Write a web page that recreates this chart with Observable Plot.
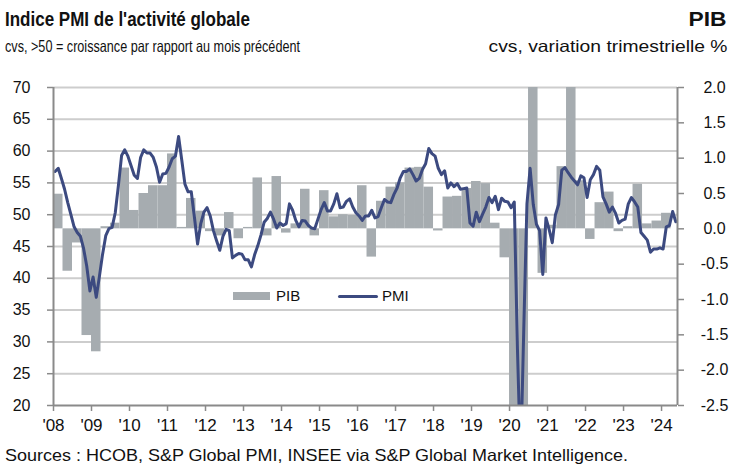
<!DOCTYPE html>
<html>
<head>
<meta charset="utf-8">
<script src="https://cdn.jsdelivr.net/npm/d3@7"></script>
<script src="https://cdn.jsdelivr.net/npm/@observablehq/plot@0.6"></script>
<style>
  html, body { margin: 0; padding: 0; background: #fff; }
  #wrap { position: relative; width: 731px; height: 464px; overflow: hidden; font-family: "Liberation Sans", Arial, sans-serif; color: #111; }
  .abs { position: absolute; white-space: nowrap; }
  #chart { position: absolute; left: 0; top: 0; }
</style>
</head>
<body>
<div id="wrap">
  <div id="chart"></div>
  <div class="abs fit" data-w="245" data-o="left" style="left:5px; top:8px; font-size:19.5px; line-height:22px; font-weight:bold;">Indice PMI de l'activité globale</div>
  <div class="abs fit" data-w="295" data-o="left" style="left:5px; top:37px; font-size:16.5px; line-height:18px;">cvs, &gt;50 = croissance par rapport au mois précédent</div>
  <div class="abs fit" data-w="38" data-o="right" style="right:4px; top:8px; font-size:19.5px; line-height:22px; font-weight:bold;">PIB</div>
  <div class="abs fit" data-w="239" data-o="right" style="right:4px; top:37px; font-size:16.5px; line-height:18px;">cvs, variation trimestrielle %</div>
  <div class="abs fit" data-w="623" data-o="left" style="left:5px; top:446px; font-size:16.5px; line-height:18px;">Sources : HCOB, S&amp;P Global PMI, INSEE via S&amp;P Global Market Intelligence.</div>
  <div class="abs" style="left:233px; top:292px; width:37px; height:8px; background:#a6acb0;"></div>
  <div class="abs" style="left:276px; top:287px; font-size:15px; line-height:18px;">PIB</div>
  <div class="abs" style="left:338px; top:294.5px; width:40px; height:3px; background:#3c4a80; border-radius:1.5px;"></div>
  <div class="abs" style="left:382px; top:287px; font-size:15px; line-height:18px;">PMI</div>
</div>
<script>
// PMI composite, monthly, Jan 2008 – May 2024
const pmiStartYear = 2008;
const pmi = [
  56.8, 57.3, 55.7, 54.0, 51.9, 50.0, 48.1, 47.2, 46.6, 44.7, 41.9, 38.0,
  40.2, 37.0, 40.3, 43.8, 46.7, 47.8, 48.0, 50.3, 54.6, 59.3, 60.2, 59.2,
  57.7, 56.2, 55.7, 59.0, 60.2, 59.7, 59.7, 59.0, 57.5, 55.1, 56.4, 56.5,
  57.5, 58.8, 59.2, 62.3, 58.6, 54.8, 53.6, 53.6, 49.6, 45.4, 48.6, 50.4,
  51.1, 49.8, 47.5, 45.9, 44.4, 46.6, 47.7, 47.5, 43.2, 43.6, 43.9, 43.8,
  42.9, 42.9, 41.8, 43.7, 45.1, 46.8, 48.8, 49.4, 50.4, 49.3, 47.9, 48.7,
  48.3, 48.6, 51.7, 50.7, 49.1, 48.1, 49.1, 49.0, 48.3, 47.9, 47.8, 49.3,
  50.8, 51.9, 50.6, 50.6, 51.7, 53.3, 51.1, 51.2, 52.1, 52.5, 51.2, 50.3,
  49.8, 49.1, 49.8, 49.8, 50.7, 49.5, 49.7, 51.1, 52.4, 52.0, 51.9, 53.2,
  54.2, 55.8, 56.8, 56.8, 57.2, 56.3, 55.3, 55.7, 57.1, 58.0, 60.4, 59.6,
  59.2, 57.3, 56.3, 56.9, 54.2, 55.0, 54.4, 54.9, 54.0, 54.1, 54.2, 48.7,
  48.2, 50.4, 48.9, 50.1, 51.2, 52.7, 51.9, 52.9, 50.8, 52.6, 52.1, 52.0,
  51.1, 52.0, 28.9, 11.1, 32.1, 51.7, 57.3, 51.6, 48.5, 47.5, 40.6, 49.5,
  47.7, 45.6, 50.0, 51.6, 57.0, 57.4, 56.6, 55.9, 55.3, 54.7, 56.1, 55.8,
  52.7, 55.5, 56.3, 57.6, 57.0, 52.8, 51.7, 50.4, 51.2, 50.2, 48.7, 49.1,
  49.3, 51.7, 52.7, 52.0, 51.2, 47.2, 46.6, 46.0, 44.1, 44.6, 44.6, 44.8,
  44.6, 48.1, 48.3, 50.5, 48.9
];

// PIB, quarterly % change, Q1 2008 – Q1 2024
const pibStartYear = 2008;
const pib = [
  0.49, -0.60, -0.20, -1.51,
  -1.74, 0.03, 0.08, 0.86,
  0.26, 0.50, 0.61, 0.61,
  1.06, 0.02, 0.43, 0.25,
  -0.04, -0.10, 0.23, -0.14,
  0.02, 0.72, -0.10, 0.74,
  -0.06, 0.07, 0.56, -0.10,
  0.54, 0.17, 0.20, 0.19,
  0.61, -0.40, 0.39, 0.59,
  0.65, 0.86, 0.87, 0.59,
  -0.03, 0.45, 0.46, 0.57,
  0.67, 0.64, 0.08, -0.41,
  -5.50, -13.50, 18.60, -0.63,
  0.05, 0.88, 3.00, 0.68,
  -0.15, 0.37, 0.52, -0.04,
  0.03, 0.63, 0.07, 0.11,
  0.22
];

const pmiTicks = [20, 25, 30, 35, 40, 45, 50, 55, 60, 65, 70];
const pibTicks = [-2.5, -2.0, -1.5, -1.0, -0.5, 0.0, 0.5, 1.0, 1.5, 2.0];
const yearTicks = [2008, 2009, 2010, 2011, 2012, 2013, 2014, 2015, 2016, 2017, 2018, 2019, 2020, 2021, 2022, 2023, 2024];
const yearLabels = ["'08","'09","'10","'11","'12","'13","'14","'15","'16","'17","'18","'19","'20","'21","'22","'23","'24"];

// dual-axis alignment: right axis range mapped onto the left axis range
const pmiMin = pmiTicks[0], pmiMax = pmiTicks[pmiTicks.length - 1];
const pibMin = pibTicks[0], pibMax = pibTicks[pibTicks.length - 1];
const toPmi = v => pmiMin + (v - pibMin) * (pmiMax - pmiMin) / (pibMax - pibMin);

const lineData = pmi.map((v, i) => ({t: pmiStartYear + (i + 0.5) / 12, v}));
const barData = pib.map((v, i) => ({t0: pibStartYear + i / 4, t1: pibStartYear + (i + 1) / 4, v}));

const NAVY = "#3c4a80";
const GRAY = "#a6acb0";
const AXIS = "#8a8a8a";

const chart = Plot.plot({
  width: 731,
  height: 464,
  marginTop: 87,
  marginBottom: 59,
  marginLeft: 53,
  marginRight: 54,
  style: {fontFamily: "'Liberation Sans', Arial, sans-serif", fontSize: "16px", color: "#111", background: "white"},
  x: {domain: [2008, 2024.42], type: "linear"},
  y: {domain: [pmiMin, pmiMax]},
  marks: [
    Plot.gridY(pmiTicks.slice(1), {stroke: "#cdcdcd", strokeOpacity: 1, strokeWidth: 2}),
    Plot.rect(barData, {x1: "t0", x2: "t1", y1: () => toPmi(0), y2: d => toPmi(d.v), fill: GRAY, inset: 0, clip: true}),
    Plot.line(lineData, {x: "t", y: "v", stroke: NAVY, strokeWidth: 3, strokeLinejoin: "round", strokeLinecap: "round", clip: true}),
    Plot.axisY(pmiTicks, {anchor: "left", tickSize: 6, tickPadding: 17, stroke: AXIS, strokeWidth: 1.5, label: null}),
    Plot.axisY(pibTicks.map(toPmi), {anchor: "right", tickSize: 6, tickPadding: 31, textAnchor: "middle", stroke: AXIS, strokeWidth: 1.5, label: null, tickFormat: (d, i) => pibTicks[i].toFixed(1)}),
    Plot.axisX(yearTicks, {anchor: "bottom", tickSize: 6, tickPadding: 7, fontSize: 17, stroke: AXIS, strokeWidth: 1.5, label: null, tickFormat: (d, i) => yearLabels[i]}),
    Plot.ruleX([2008], {stroke: AXIS, strokeWidth: 2}),
    Plot.ruleX([2024.42], {stroke: AXIS, strokeWidth: 2}),
    Plot.ruleY([pmiMin], {stroke: AXIS, strokeWidth: 2})
  ]
});
document.getElementById("chart").appendChild(chart);

// fit header/footer text widths to the reference layout
document.querySelectorAll(".fit").forEach(el => {
  const w = el.getBoundingClientRect().width;
  const s = (+el.dataset.w) / w;
  el.style.transformOrigin = el.dataset.o === "right" ? "right center" : "left center";
  el.style.transform = `scaleX(${s})`;
});
</script>
</body>
</html>
